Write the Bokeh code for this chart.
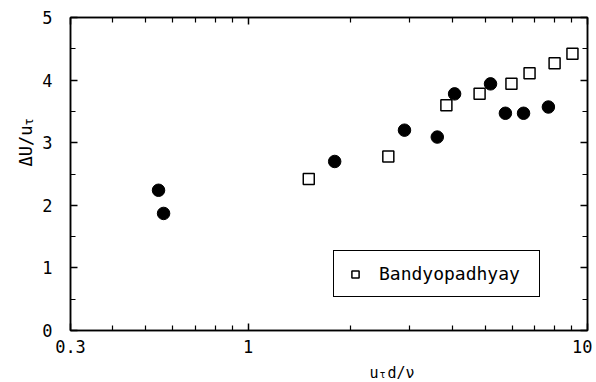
import math
from bokeh.plotting import figure
from bokeh.models import (LogAxis, LinearAxis, FixedTicker, Range1d, Label,
                          Legend, LegendItem, ColumnDataSource)
from bokeh.embed import file_html
from bokeh.resources import INLINE

# ---- data ----
present_x = [0.545, 0.564, 1.80, 2.89, 3.61, 4.06, 5.18, 5.73, 6.48, 7.67]
present_y = [2.24, 1.87, 2.70, 3.20, 3.09, 3.78, 3.94, 3.47, 3.47, 3.57]
bandy_x = [1.51, 2.59, 3.84, 4.81, 5.97, 6.75, 8.00, 9.03]
bandy_y = [2.42, 2.78, 3.60, 3.78, 3.94, 4.11, 4.27, 4.42]

x_major = [0.3, 1, 10]
x_major_labels = ["0.3", "1", "10"]
x_minor = [0.4, 0.5, 0.6, 0.7, 0.8, 0.9, 2, 3, 4, 5, 6, 7, 8, 9]
y_major = [0, 1, 2, 3, 4, 5]
y_major_labels = ["0", "1", "2", "3", "4", "5"]
y_minor = [0.5, 1.5, 2.5, 3.5, 4.5]
legend_label = "Bandyopadhyay"

FONT = "DejaVu Sans Mono"

p = figure(width=592, height=382, x_axis_type="log",
           x_range=Range1d(0.3, 10), y_range=Range1d(0, 5),
           output_backend="svg", toolbar_location=None,
           min_border_left=70, min_border_right=5,
           min_border_top=17, min_border_bottom=52)
p.grid.visible = False
p.outline_line_color = "black"
p.outline_line_width = 1.5
p.background_fill_color = "white"
p.border_fill_color = "white"


def style_axis(ax, ticks, minor, labels, show):
    ax.ticker = FixedTicker(ticks=ticks, minor_ticks=minor)
    if show:
        ax.major_label_overrides = {t: l for t, l in zip(ticks, labels)}
    else:
        ax.major_label_overrides = {t: "" for t in ticks}
    ax.major_tick_in = 7
    ax.major_tick_out = 0
    ax.minor_tick_in = 5
    ax.minor_tick_out = 0
    ax.axis_line_color = "black"
    ax.axis_line_width = 1.5
    ax.major_tick_line_width = 1.5
    ax.minor_tick_line_width = 1.2
    ax.major_label_text_font = FONT
    ax.major_label_text_font_size = "17px"
    ax.major_label_text_color = "black"


style_axis(p.xaxis[0], x_major, x_minor, x_major_labels, True)
p.xaxis[0].major_label_standoff = 9
style_axis(p.yaxis[0], y_major, y_minor, y_major_labels, True)
p.yaxis[0].major_label_standoff = 18

top = LogAxis()
style_axis(top, x_major, x_minor, x_major_labels, False)
top.major_label_standoff = 0
p.add_layout(top, "above")
right = LinearAxis()
style_axis(right, y_major, y_minor, y_major_labels, False)
right.major_label_standoff = 0
p.add_layout(right, "right")

src_p = ColumnDataSource(dict(x=present_x, y=present_y))
src_b = ColumnDataSource(dict(x=bandy_x, y=bandy_y))
p.scatter("x", "y", source=src_p, marker="circle", size=12.5,
          fill_color="black", line_color="black")
rb = p.scatter("x", "y", source=src_b, marker="square", size=11,
               fill_color="white", line_color="black", line_width=1.5)

leg = Legend(items=[LegendItem(label=legend_label, renderers=[rb])],
             location=(263, 33), margin=0, padding=12,
             glyph_width=18, glyph_height=18, label_standoff=15,
             label_width=148,
             label_text_font=FONT, label_text_font_size="18px",
             label_text_color="black",
             label_height=19,
             border_line_color="black", border_line_width=1.2,
             border_line_alpha=1.0,
             background_fill_alpha=1.0)
p.add_layout(leg, "center")

# axis titles with subscript tau (canvas units), placed in the side panels
def lab(x, y, text, size, place, angle=0.0):
    p.add_layout(Label(x=x, y=y, x_units="canvas", y_units="canvas",
                       text=text, angle=angle, text_font=FONT,
                       text_font_size=size, text_baseline="alphabetic",
                       text_align="left", text_color="black"), place)

lab(25, 166, "ΔU/u", "17px", "left", math.pi / 2)
lab(28, 125, "τ", "12px", "left", math.pi / 2)
lab(369, 372, "u d/ν", "15px", "below")
lab(379, 374, "τ", "10px", "above")

open("out.html", "w").write(file_html(p, INLINE))
